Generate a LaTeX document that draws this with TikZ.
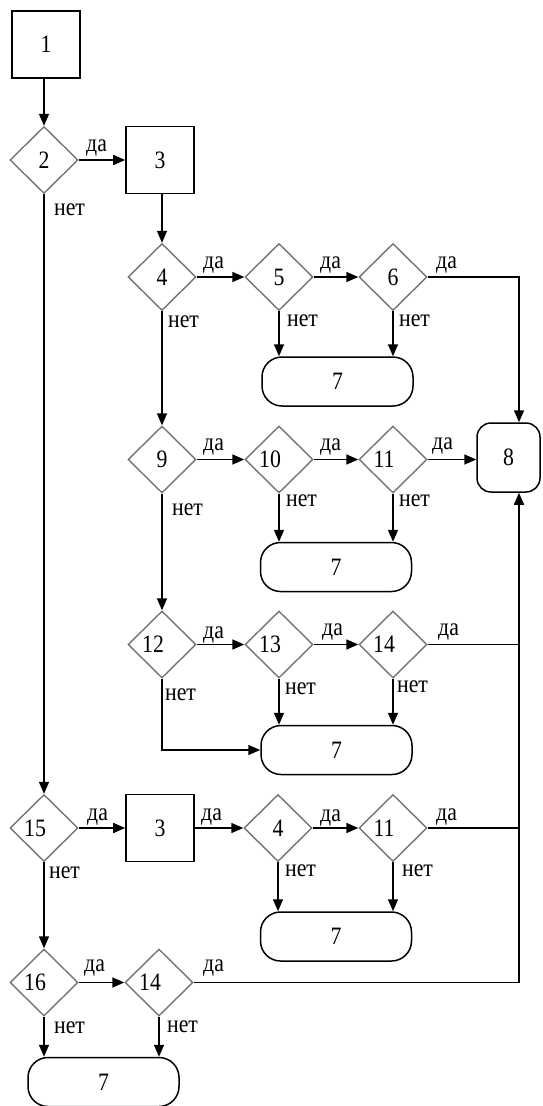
\documentclass[tikz,border=0pt]{standalone}
\usepackage{fontspec}
\setmainfont{Liberation Serif}[FakeStretch=0.87]
\usetikzlibrary{shapes.geometric,arrows.meta}
\begin{document}
\begin{tikzpicture}[x=1pt,y=-1pt,
  font=\rmfamily\fontsize{25}{27}\selectfont,
  proc/.style={draw=black,line width=1.6pt,minimum width=68pt,minimum height=67pt,inner sep=0pt},
  dia/.style={diamond,draw=black!55,line width=1.4pt,minimum width=68pt,minimum height=67pt,inner sep=0pt},
  dd/.style={dia,execute at begin node=\hspace*{-18pt}},
  term/.style={draw=black,line width=1.5pt,rounded corners=20pt,minimum width=151pt,minimum height=49pt,inner sep=0pt},
  fin/.style={draw=black,line width=1.5pt,rounded corners=14pt,minimum width=63pt,minimum height=69pt,inner sep=0pt},
  ar/.style={line width=1.6pt,-{Triangle[length=12pt,width=10pt]}},
  ln/.style={line width=1.6pt},
  lab/.style={anchor=base west,inner sep=0pt}
]
\useasboundingbox (0,0) rectangle (542,1106);

% nodes
\node[proc] (b1) at (46,44.5) {1};
\node[dia]  (d2) at (44,160) {2};
\node[proc] (b3) at (160,160) {3};
\node[dia]  (d4) at (162,277) {4};
\node[dia]  (d5) at (279,277) {5};
\node[dia]  (d6) at (393,277) {6};
\node[term] (t7a) at (337.5,381.5) {7};
\node[dia]  (d9) at (162,459.5) {9};
\node[dd]   (d10) at (279,459.5) {10};
\node[dd]   (d11) at (393,459.5) {11};
\node[fin]  (t8) at (508.5,457.5) {8};
\node[term] (t7b) at (336,567) {7};
\node[dd]   (d12) at (162,644.5) {12};
\node[dd]   (d13) at (279,644.5) {13};
\node[dd]   (d14) at (393,644.5) {14};
\node[term] (t7c) at (336.5,750) {7};
\node[dd]   (d15) at (44,828) {15};
\node[proc] (b3b) at (160,828) {3};
\node[dia]  (d4b) at (278,828) {4};
\node[dd]   (d11b) at (393,828) {11};
\node[term] (t7d) at (336,936.5) {7};
\node[dd]   (d16) at (44,982.5) {16};
\node[dd]   (d14b) at (159,982.5) {14};
\node[term] (t7e) at (103.5,1082) {7};
\coordinate (rj) at (519,0);

% connectors
\draw[ar] (b1.south -| d2.north) -- (d2.north);
\draw[ar] (d2.east) -- (b3.west);
\draw[ar] (b3.south -| d4.north) -- (d4.north);
\draw[ar] (d2.south) -- (d15.north);
\draw[ar] (d4.east) -- (d5.west);
\draw[ar] (d5.east) -- (d6.west);
\draw[ar] (d6.east) -| (rj |- t8.north);
\draw[ar] (d5.south) -- (d5.south |- t7a.north);
\draw[ar] (d6.south) -- (d6.south |- t7a.north);
\draw[ar] (d4.south) -- (d9.north);
\draw[ar] (d9.east) -- (d10.west);
\draw[ar] (d10.east) -- (d11.west);
\draw[ar] (d11.east) -- (d11.east -| t8.west);
\draw[ar] (d10.south) -- (d10.south |- t7b.north);
\draw[ar] (d11.south) -- (d11.south |- t7b.north);
\draw[ar] (d9.south) -- (d12.north);
\draw[ar] (d12.east) -- (d13.west);
\draw[ar] (d13.east) -- (d14.west);
\draw[ln] (d14.east) -- (d14.east -| rj);
\draw[ar] (d13.south) -- (d13.south |- t7c.north);
\draw[ar] (d14.south) -- (d14.south |- t7c.north);
\draw[ar] (d12.south) |- (t7c.west);
\draw[ar] (d15.east) -- (b3b.west);
\draw[ar] (b3b.east) -- (d4b.west);
\draw[ar] (d4b.east) -- (d11b.west);
\draw[ln] (d11b.east) -- (d11b.east -| rj);
\draw[ar] (d4b.south) -- (d4b.south |- t7d.north);
\draw[ar] (d11b.south) -- (d11b.south |- t7d.north);
\draw[ar] (d15.south) -- (d16.north);
\draw[ar] (d16.east) -- (d14b.west);
\draw[ar] (d14b.east) -| (rj |- t8.south);
\draw[ar] (d16.south) -- (d16.south |- t7e.north);
\draw[ar] (d14b.south) -- (d14b.south |- t7e.north);

% labels "да"
\node[lab] (y2) at (86,151) {да};
\node[lab] (y4) at (203,268) {да};
\node[lab] (y5) at (320,268) {да};
\node[lab] (y6) at (436,268) {да};
\node[lab] (y9) at (203,450) {да};
\node[lab] (y10) at (320,450) {да};
\node[lab] (y11) at (432,449) {да};
\node[lab] (y12) at (203,638) {да};
\node[lab] (y13) at (322,635) {да};
\node[lab] (y14) at (438,635) {да};
\node[lab] (y15) at (87,820) {да};
\node[lab] (y3b) at (201,820) {да};
\node[lab] (y4b) at (320,821) {да};
\node[lab] (y11b) at (436,820) {да};
\node[lab] (y16) at (84,971) {да};
\node[lab] (y14b) at (203,971) {да};

% labels "нет"
\node[lab] (n2) at (54,215) {нет};
\node[lab] (n4) at (168,327) {нет};
\node[lab] (n5) at (287,326) {нет};
\node[lab] (n6) at (399,326) {нет};
\node[lab] (n9) at (172,515) {нет};
\node[lab] (n10) at (286,506) {нет};
\node[lab] (n11) at (399,506) {нет};
\node[lab] (n12) at (165,700) {нет};
\node[lab] (n13) at (285,694) {нет};
\node[lab] (n14) at (397,692) {нет};
\node[lab] (n15) at (49,878) {нет};
\node[lab] (n4b) at (285,876) {нет};
\node[lab] (n11b) at (402,876) {нет};
\node[lab] (n16) at (54,1033) {нет};
\node[lab] (n14b) at (167,1032) {нет};
\end{tikzpicture}
\end{document}
